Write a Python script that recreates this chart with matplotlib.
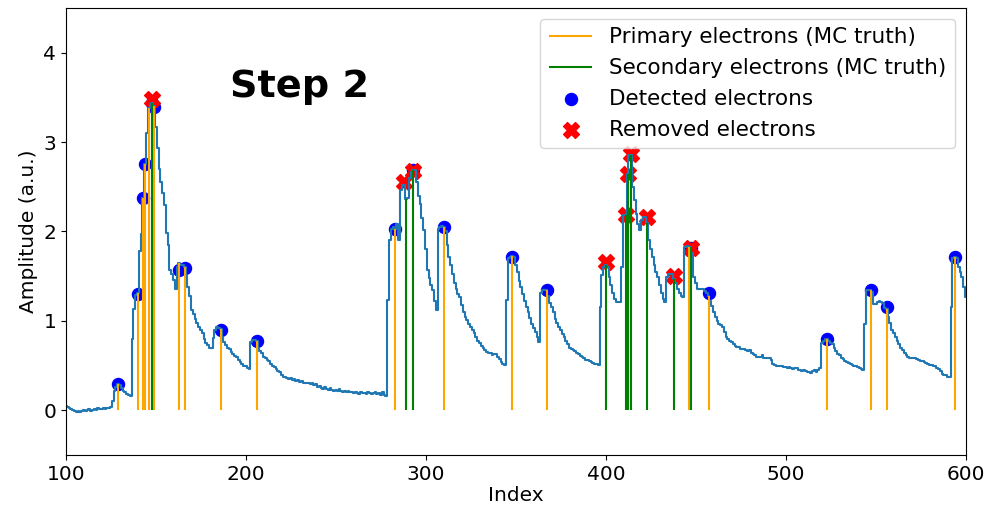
import numpy as np
import matplotlib
matplotlib.use("Agg")
import matplotlib.pyplot as plt

# Waveform amplitude for index 100..600
waveform = [
    0.05, 0.04, 0.02, 0.01, 0.00, -0.01, -0.02, -0.01, -0.02, -0.01,
    0.00, -0.01, 0.00, 0.01, -0.01, 0.00, 0.01, 0.00, 0.02, 0.01,
    0.01, 0.02, 0.01, 0.03, 0.03, 0.04, 0.10, 0.22, 0.26, 0.29,
    0.28, 0.25, 0.22, 0.20, 0.18, 0.17, 0.16, 0.80, 1.13, 1.29,
    1.31, 1.78, 1.97, 2.38, 2.76, 3.10, 3.38, 3.43, 3.44, 3.40,
    3.17, 2.93, 2.70, 2.55, 2.43, 2.30, 1.98, 1.85, 1.57, 1.52,
    1.46, 1.36, 1.60, 1.65, 1.63, 1.62, 1.60, 1.50, 1.38, 1.28,
    1.12, 1.08, 1.02, 0.98, 0.93, 0.90, 0.86, 0.80, 0.75, 0.73,
    0.70, 0.70, 0.81, 0.90, 0.93, 0.92, 0.91, 0.82, 0.76, 0.73,
    0.70, 0.68, 0.65, 0.63, 0.61, 0.60, 0.56, 0.54, 0.52, 0.50,
    0.49, 0.47, 0.46, 0.76, 0.79, 0.79, 0.78, 0.70, 0.66, 0.64,
    0.60, 0.58, 0.56, 0.55, 0.52, 0.50, 0.48, 0.46, 0.44, 0.43,
    0.40, 0.37, 0.37, 0.36, 0.35, 0.36, 0.34, 0.35, 0.33, 0.34,
    0.32, 0.33, 0.31, 0.30, 0.30, 0.31, 0.29, 0.30, 0.28, 0.29,
    0.26, 0.27, 0.25, 0.24, 0.26, 0.24, 0.23, 0.25, 0.23, 0.22,
    0.23, 0.22, 0.24, 0.22, 0.21, 0.22, 0.20, 0.22, 0.21, 0.20,
    0.19, 0.20, 0.19, 0.18, 0.20, 0.19, 0.19, 0.18, 0.20, 0.19,
    0.18, 0.19, 0.20, 0.18, 0.19, 0.17, 0.20, 0.17, 0.16, 1.23,
    1.90, 2.03, 2.05, 2.03, 2.08, 1.90, 2.46, 2.52, 2.52, 2.36,
    2.38, 2.60, 2.66, 2.69, 2.69, 2.55, 2.40, 2.31, 2.15, 2.02,
    1.80, 1.57, 1.48, 1.40, 1.34, 1.22, 1.12, 2.03, 2.05, 2.06,
    2.05, 2.00, 1.85, 1.72, 1.62, 1.52, 1.42, 1.36, 1.30, 1.27,
    1.18, 1.10, 1.04, 1.01, 0.96, 0.93, 0.90, 0.86, 0.82, 0.78,
    0.75, 0.72, 0.70, 0.67, 0.65, 0.64, 0.64, 0.62, 0.63, 0.63,
    0.60, 0.57, 0.54, 0.52, 0.51, 1.23, 1.70, 1.72, 1.73, 1.72,
    1.62, 1.55, 1.45, 1.38, 1.30, 1.22, 1.16, 1.10, 1.03, 0.97,
    0.92, 0.88, 0.82, 0.76, 1.31, 1.34, 1.35, 1.34, 1.28, 1.20,
    1.16, 1.10, 1.02, 0.98, 0.93, 0.90, 0.85, 0.82, 0.78, 0.74,
    0.70, 0.68, 0.67, 0.66, 0.64, 0.63, 0.61, 0.60, 0.58, 0.56,
    0.56, 0.55, 0.54, 0.53, 0.52, 0.52, 0.51, 1.16, 1.51, 1.60,
    1.62, 1.60, 1.49, 1.40, 1.31, 1.25, 1.21, 1.21, 1.21, 1.60,
    2.18, 2.18, 2.64, 2.86, 2.86, 2.50, 2.35, 2.20, 2.08, 2.02,
    2.13, 2.16, 2.16, 2.10, 1.90, 1.80, 1.72, 1.62, 1.55, 1.49,
    1.40, 1.31, 1.25, 1.21, 1.49, 1.52, 1.52, 1.52, 1.47, 1.42,
    1.36, 1.31, 1.28, 1.27, 1.83, 1.84, 1.83, 1.83, 1.76, 1.49,
    1.42, 1.36, 1.36, 1.36, 1.36, 1.33, 1.31, 1.28, 1.22, 1.17,
    1.10, 1.04, 1.00, 0.97, 0.95, 0.93, 0.88, 0.82, 0.80, 0.78,
    0.76, 0.74, 0.72, 0.71, 0.71, 0.69, 0.68, 0.68, 0.67, 0.66,
    0.67, 0.64, 0.63, 0.62, 0.60, 0.60, 0.60, 0.62, 0.58, 0.59,
    0.58, 0.58, 0.56, 0.52, 0.51, 0.50, 0.50, 0.49, 0.49, 0.48,
    0.48, 0.47, 0.48, 0.47, 0.46, 0.47, 0.47, 0.45, 0.45, 0.44,
    0.45, 0.44, 0.43, 0.43, 0.42, 0.44, 0.45, 0.43, 0.45, 0.47,
    0.75, 0.78, 0.80, 0.80, 0.78, 0.75, 0.74, 0.70, 0.66, 0.63,
    0.62, 0.59, 0.57, 0.55, 0.54, 0.53, 0.52, 0.51, 0.50, 0.49,
    0.48, 0.47, 0.46, 0.45, 0.97, 1.34, 1.35, 1.34, 1.32, 1.19,
    1.19, 1.21, 1.22, 1.21, 1.20, 1.14, 1.13, 1.04, 0.98, 0.90,
    0.86, 0.82, 0.78, 0.74, 0.70, 0.67, 0.64, 0.62, 0.60, 0.59,
    0.59, 0.58, 0.58, 0.57, 0.56, 0.55, 0.55, 0.54, 0.53, 0.52,
    0.51, 0.51, 0.50, 0.49, 0.47, 0.46, 0.44, 0.41, 0.40, 0.39,
    0.37, 0.37, 1.16, 1.70, 1.72, 1.70, 1.60, 1.55, 1.49, 1.38,
    1.27,
]
start_index = 100

# MC truth electron positions
primary_idx = [129, 140, 143, 144, 146, 149, 163, 166, 186, 206,
               283, 310, 348, 367, 446, 457, 523, 547, 556, 594]
secondary_idx = [148, 289, 293, 400, 411, 412, 414, 423, 438, 447]

# Detected electrons
detected_idx = [129, 140, 143, 144, 148, 149, 163, 166, 186, 206,
                283, 293, 310, 348, 367, 447, 457, 523, 547, 556, 594]
detected_amp = [0.29, 1.30, 2.38, 2.76, 3.44, 3.39, 1.57, 1.59, 0.90, 0.77,
                2.03, 2.69, 2.05, 1.72, 1.34, 1.81, 1.31, 0.80, 1.34, 1.15, 1.72]

# Removed electrons
removed_idx = [148, 288, 293, 400, 411, 412, 414, 423, 438, 447]
removed_amp = [3.48, 2.55, 2.68, 1.66, 2.18, 2.64, 2.87, 2.16, 1.50, 1.81]

index = np.arange(start_index, start_index + len(waveform))
wave = np.array(waveform)

fig = plt.figure(figsize=(9.89, 5.07), dpi=100)
ax = fig.add_axes([0.0667, 0.1026, 0.91, 0.8816])

ax.step(index, wave, where="mid", color="tab:blue", linewidth=1.5)

prim_h = wave[np.array(primary_idx) - start_index]
sec_h = wave[np.array(secondary_idx) - start_index]
ax.vlines(primary_idx, 0, prim_h, color="orange", linewidth=1.5,
          label="Primary electrons (MC truth)")
ax.vlines(secondary_idx, 0, sec_h, color="green", linewidth=1.5,
          label="Secondary electrons (MC truth)")

ax.scatter(detected_idx, detected_amp, color="blue", s=75,
           label="Detected electrons")
ax.scatter(removed_idx, removed_amp, color="red", marker="X", s=130,
           label="Removed electrons")

ax.text(191, 3.51, "Step 2", fontsize=27.5, fontweight="bold",
        family="DejaVu Sans", ha="left", va="baseline")

ax.set_xlim(100, 600)
ax.set_ylim(-0.5, 4.5)
ax.set_xticks([100, 200, 300, 400, 500, 600])
ax.set_yticks([0, 1, 2, 3, 4])
ax.tick_params(labelsize=14.5)
ax.set_xlabel("Index", fontsize=14.5, labelpad=2)
ax.set_ylabel("Amplitude (a.u.)", fontsize=14.5)

ax.legend(loc="upper right", fontsize=15.5, borderaxespad=0.5)

fig.savefig("out.png", dpi=100)
